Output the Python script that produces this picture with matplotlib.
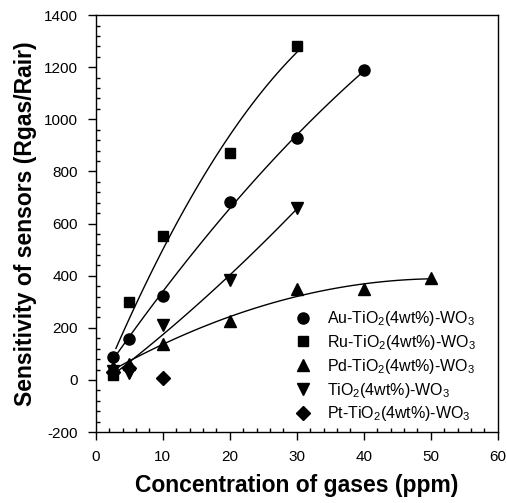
import matplotlib
matplotlib.use("Agg")
import matplotlib.pyplot as plt
import numpy as np
from matplotlib.ticker import MultipleLocator

plt.rcParams['font.family'] = ['Liberation Sans', 'DejaVu Sans']
plt.rcParams['mathtext.fontset'] = 'custom'
plt.rcParams['mathtext.rm'] = 'Liberation Sans'
plt.rcParams['mathtext.it'] = 'Liberation Sans'
plt.rcParams['axes.unicode_minus'] = False

# data
auX = [2.5, 5, 10, 20, 30, 40]
auY = [88, 158, 323, 681, 927, 1188]
ruX = [2.5, 5, 10, 20, 30]
ruY = [20, 300, 552, 872, 1280]
pdX = [2.5, 5, 10, 20, 30, 40, 50]
pdY = [50, 60, 138, 227, 350, 350, 392]
tiX = [2.5, 5, 10, 20, 30]
tiY = [35, 27, 212, 385, 661]
ptX = [2.5, 5, 10]
ptY = [30, 45, 8]

labels = ["Au-TiO$_2$(4wt%)-WO$_3$", "Ru-TiO$_2$(4wt%)-WO$_3$",
          "Pd-TiO$_2$(4wt%)-WO$_3$", "TiO$_2$(4wt%)-WO$_3$",
          "Pt-TiO$_2$(4wt%)-WO$_3$"]

fig = plt.figure(figsize=(5.07, 5.03), dpi=100)
ax = fig.add_axes([0.189, 0.141, 0.793, 0.829])

series = [(auX, auY, 'o', 8), (ruX, ruY, 's', 7), (pdX, pdY, '^', 8),
          (tiX, tiY, 'v', 8), (ptX, ptY, 'D', 7)]

#===============================================================
# fitted curves (quadratic through the points)
#===============================================================
for i, (xs, ys, m, ms) in enumerate(series[:4]):
    c = np.polyfit(xs, ys, 2)
    xx = np.linspace(3, max(xs), 100)
    ax.plot(xx, np.polyval(c, xx), color='black', lw=1.0)

for (xs, ys, m, ms), lab in zip(series, labels):
    ax.plot(xs, ys, linestyle='none', marker=m, markersize=ms,
            color='black', label=lab)

ax.set_xlim(0, 60)
ax.set_ylim(-200, 1400)
ax.xaxis.set_major_locator(MultipleLocator(10))
ax.xaxis.set_minor_locator(MultipleLocator(2))
ax.yaxis.set_major_locator(MultipleLocator(200))
ax.yaxis.set_minor_locator(MultipleLocator(40))
ax.tick_params(which='major', direction='out', length=6, width=1, labelsize=11, pad=7)
ax.tick_params(which='minor', direction='in', length=3, width=1)
for s in ax.spines.values():
    s.set_linewidth(1.0)

ax.set_xlabel("Concentration of gases (ppm)", fontsize=16.5, fontweight='bold', labelpad=7)
ax.set_ylabel("Sensitivity of sensors (Rgas/Rair)", fontsize=16.5, fontweight='bold', labelpad=5)

ax.legend(loc='upper left', bbox_to_anchor=(0.48, 0.31), frameon=False,
          fontsize=11.5, handlelength=1.0, handletextpad=1.0, labelspacing=0.3,
          borderaxespad=0)

fig.savefig("out.png", dpi=100)
